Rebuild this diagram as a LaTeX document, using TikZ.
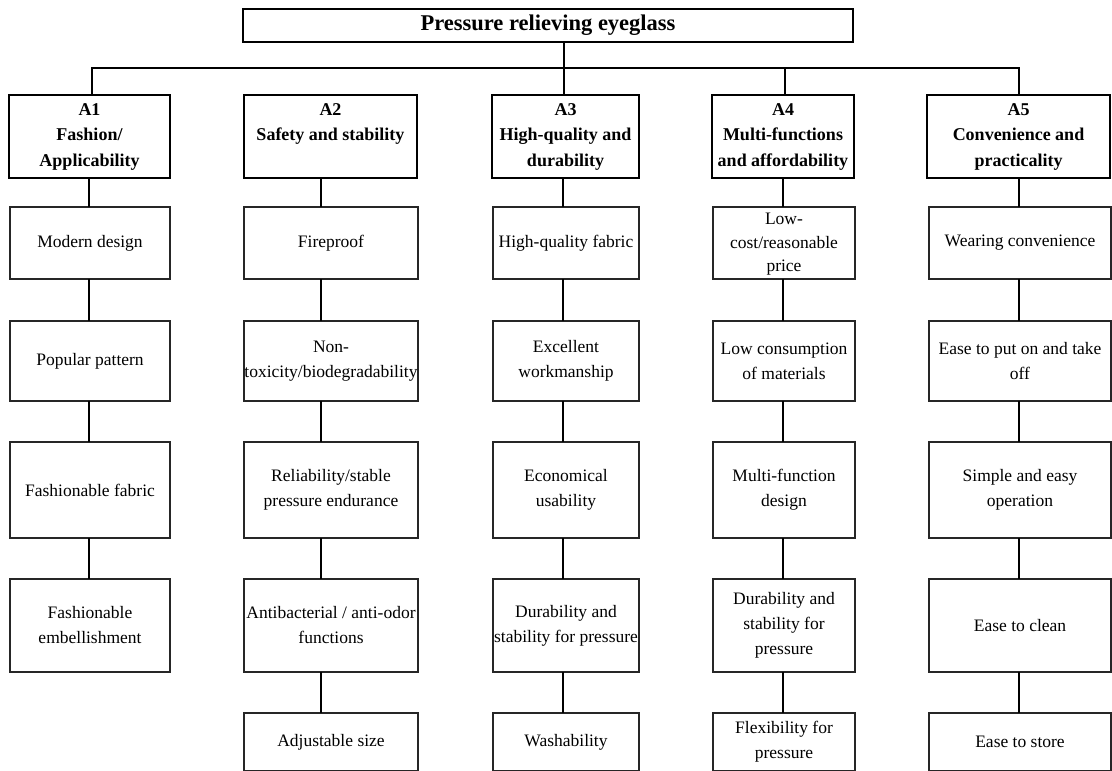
\documentclass[tikz,border=0pt]{standalone}
\usepackage{fontspec}
\setmainfont{Liberation Serif}
\begin{document}
\begin{tikzpicture}[x=1pt,y=-1pt,
  box/.style={draw=black!85, line width=1.1pt, inner sep=0pt, outer sep=0pt, align=center, font=\fontsize{17.5}{25}\selectfont},
  hbox/.style={draw=black, line width=2pt, inner sep=0pt, outer sep=0pt, align=center, font=\bfseries\fontsize{18}{25.5}\selectfont},
  tbox/.style={draw=black, line width=2pt, inner sep=0pt, outer sep=0pt, align=center, font=\bfseries\fontsize{22.5}{25}\selectfont},
  conn/.style={draw=black, line width=2pt}]
\newcommand\mkbox[7]{\node[#1, minimum width={#4pt-#3pt}, minimum height={#6pt-#5pt}] (#2) at ({(#3+#4)/2},{(#5+#6)/2}) {#7};}
\useasboundingbox (0,0) rectangle (1112,771);
% title
\mkbox{tbox}{title}{243}{853}{9}{42}{\raisebox{-2pt}{Pressure relieving eyeglass}}
% headers
\mkbox{hbox}{h1}{9}{170}{95}{178}{A1\\Fashion/\\Applicability}
\mkbox{hbox}{h2}{244}{417}{95}{178}{A2\\Safety and stability\\\phantom{Ay}}
\mkbox{hbox}{h3}{492}{639}{95}{178}{A3\\High-quality and\\durability}
\mkbox{hbox}{h4}{712}{854}{95}{178}{A4\\Multi-functions\\and affordability}
\mkbox{hbox}{h5}{927}{1110}{95}{178}{A5\\Convenience and\\practicality}
% column 1
\mkbox{box}{b11}{10}{170}{207}{279}{Modern design}
\mkbox{box}{b12}{10}{170}{321}{401}{Popular pattern}
\mkbox{box}{b13}{10}{170}{442}{538}{Fashionable fabric}
\mkbox{box}{b14}{10}{170}{579}{672}{Fashionable\\embellishment}
% column 2
\mkbox{box}{b21}{244}{418}{207}{279}{Fireproof}
\mkbox{box}{b22}{244}{418}{321}{401}{Non-\\toxicity/biodegradability}
\mkbox{box}{b23}{244}{418}{442}{538}{Reliability/stable\\pressure endurance}
\mkbox{box}{b24}{244}{418}{579}{672}{Antibacterial / anti-odor\\functions}
\mkbox{box}{b25}{244}{418}{713}{771}{Adjustable size}
% column 3
\mkbox{box}{b31}{493}{639}{207}{279}{High-quality fabric}
\mkbox{box}{b32}{493}{639}{321}{401}{Excellent\\workmanship}
\mkbox{box}{b33}{493}{639}{442}{538}{Economical\\usability}
\mkbox{box}{b34}{493}{639}{579}{672}{Durability and\\stability for pressure}
\mkbox{box}{b35}{493}{639}{713}{771}{Washability}
% column 4
\mkbox{box}{b41}{713}{855}{207}{279}{\raisebox{-5pt}{\begin{tabular}{@{}c@{}}Low-\\[-1.5pt]cost/reasonable\\[-1.5pt]price\end{tabular}}}
\mkbox{box}{b42}{713}{855}{321}{401}{Low consumption\\of materials}
\mkbox{box}{b43}{713}{855}{442}{538}{Multi-function\\design}
\mkbox{box}{b44}{713}{855}{579}{672}{Durability and\\stability for\\pressure}
\mkbox{box}{b45}{713}{855}{713}{771}{Flexibility for\\pressure}
% column 5
\mkbox{box}{b51}{929}{1111}{207}{279}{Wearing convenience}
\mkbox{box}{b52}{929}{1111}{321}{401}{Ease to put on and take\\off}
\mkbox{box}{b53}{929}{1111}{442}{538}{Simple and easy\\operation}
\mkbox{box}{b54}{929}{1111}{579}{672}{Ease to clean}
\mkbox{box}{b55}{929}{1111}{713}{771}{Ease to store}
% connector x positions
\coordinate (c1) at (89,0);
\coordinate (c2) at (321,0);
\coordinate (c3) at (563,0);
\coordinate (c4) at (783,0);
\coordinate (c5) at (1019,0);
\coordinate (busL) at (92,68);
\coordinate (busR) at (1019,68);
\coordinate (d3) at (564,0);
\coordinate (d4) at (785,0);
% top connectors
\draw[conn] (h1.north -| busL) -- (busL) -- (busR) -- (h5.north -| busR);
\draw[conn] (title.south -| d3) -- (h3.north -| d3);
\draw[conn] (d4 |- busL) -- (h4.north -| d4);
% column connectors
\draw[conn] (h1.south -| c1) -- (b11.north -| c1) (b11.south -| c1) -- (b12.north -| c1)
  (b12.south -| c1) -- (b13.north -| c1) (b13.south -| c1) -- (b14.north -| c1);
\draw[conn] (h2.south -| c2) -- (b21.north -| c2) (b21.south -| c2) -- (b22.north -| c2)
  (b22.south -| c2) -- (b23.north -| c2) (b23.south -| c2) -- (b24.north -| c2)
  (b24.south -| c2) -- (b25.north -| c2);
\draw[conn] (h3.south -| c3) -- (b31.north -| c3) (b31.south -| c3) -- (b32.north -| c3)
  (b32.south -| c3) -- (b33.north -| c3) (b33.south -| c3) -- (b34.north -| c3)
  (b34.south -| c3) -- (b35.north -| c3);
\draw[conn] (h4.south -| c4) -- (b41.north -| c4) (b41.south -| c4) -- (b42.north -| c4)
  (b42.south -| c4) -- (b43.north -| c4) (b43.south -| c4) -- (b44.north -| c4)
  (b44.south -| c4) -- (b45.north -| c4);
\draw[conn] (h5.south -| c5) -- (b51.north -| c5) (b51.south -| c5) -- (b52.north -| c5)
  (b52.south -| c5) -- (b53.north -| c5) (b53.south -| c5) -- (b54.north -| c5)
  (b54.south -| c5) -- (b55.north -| c5);
\end{tikzpicture}
\end{document}
